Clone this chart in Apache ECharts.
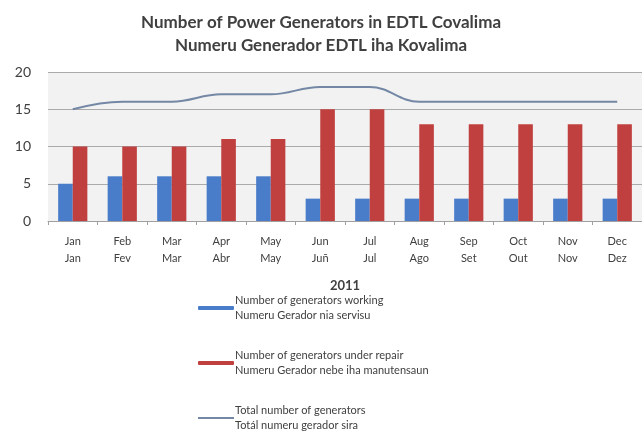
<!DOCTYPE html>
<html>
<head>
<meta charset="utf-8">
<script src="https://cdn.jsdelivr.net/npm/echarts@6/dist/echarts.min.js"></script>
<style>
  html, body { margin: 0; padding: 0; background: #fff; }
  #chart { width: 642px; height: 439px; }
</style>
</head>
<body>
<div id="chart"></div>
<script>
// months (English / Tetum)
const months = ['Jan\nJan', 'Feb\nFev', 'Mar\nMar', 'Apr\nAbr', 'May\nMay', 'Jun\nJuñ',
  'Jul\nJul', 'Aug\nAgo', 'Sep\nSet', 'Oct\nOut', 'Nov\nNov', 'Dec\nDez'];
const working = [5, 6, 6, 6, 6, 3, 3, 3, 3, 3, 3, 3];
const repair = [10, 10, 10, 11, 11, 15, 15, 13, 13, 13, 13, 13];
const total = [15, 16, 16, 17, 17, 18, 18, 16, 16, 16, 16, 16];
const yTicks = [0, 5, 10, 15, 20];

const names = [
  'Number of generators working\nNumeru Gerador nia servisu',
  'Number of generators under repair\nNumeru Gerador nebe iha manutensaun',
  'Total number of generators\nTotál numeru gerador sira'
];

const myChart = echarts.init(document.getElementById('chart'));
const textColor = '#404040';
const font = 'Lato, "Open Sans", sans-serif';

const option = {
  backgroundColor: '#fff',
  textStyle: { fontFamily: font },
  title: {
    text: 'Number of Power Generators in EDTL Covalima\nNumeru Generador EDTL iha Kovalima',
    left: 'center',
    top: 6,
    textStyle: {
      fontFamily: font,
      fontSize: 17,
      fontWeight: 'bold',
      color: textColor,
      lineHeight: 23
    }
  },
  grid: {
    left: 48,
    right: -6,
    top: 72,
    bottom: 218,
    show: true,
    backgroundColor: '#f2f2f2',
    borderWidth: 0
  },
  legend: {
    orient: 'vertical',
    left: 192,
    top: 288,
    itemWidth: 36,
    itemHeight: 4,
    itemGap: 25,
    data: [
      { name: names[0] },
      { name: names[1] },
      { name: names[2], itemStyle: { opacity: 0 } }
    ],
    textStyle: {
      fontFamily: font,
      fontSize: 11,
      color: textColor,
      lineHeight: 15,
      padding: [0, 0, 0, -4]
    }
  },
  xAxis: {
    type: 'category',
    data: months,
    name: '2011',
    nameLocation: 'middle',
    nameGap: 58,
    nameTextStyle: {
      fontFamily: font,
      fontSize: 13,
      fontWeight: 'bold',
      color: textColor
    },
    axisLine: { lineStyle: { color: '#a0a0a0' } },
    axisTick: { show: true, length: 4, lineStyle: { color: '#a0a0a0' } },
    axisLabel: {
      color: textColor,
      fontSize: 11,
      lineHeight: 17,
      margin: 12
    }
  },
  yAxis: {
    type: 'value',
    min: 0,
    max: 20,
    interval: 5,
    axisLine: { show: false },
    axisTick: { show: false },
    axisLabel: {
      color: textColor,
      fontSize: 14,
      margin: 17,
      formatter: (v) => (yTicks.includes(v) ? String(v) : '')
    },
    splitLine: { lineStyle: { color: '#aaaaaa', width: 1 } }
  },
  series: [
    {
      name: names[0],
      type: 'bar',
      data: working,
      barGap: 0,
      barCategoryGap: '41%',
      itemStyle: { color: '#4a7dc9' }
    },
    {
      name: names[1],
      type: 'bar',
      data: repair,
      barGap: 0,
      barCategoryGap: '41%',
      itemStyle: { color: '#c0403f' }
    },
    {
      name: names[2],
      type: 'line',
      data: total,
      smooth: 0.4,
      symbol: 'none',
      lineStyle: { color: '#7488a6', width: 2 },
      itemStyle: { color: '#7488a6' }
    }
  ]
};

myChart.setOption(option);
</script>
</body>
</html>
